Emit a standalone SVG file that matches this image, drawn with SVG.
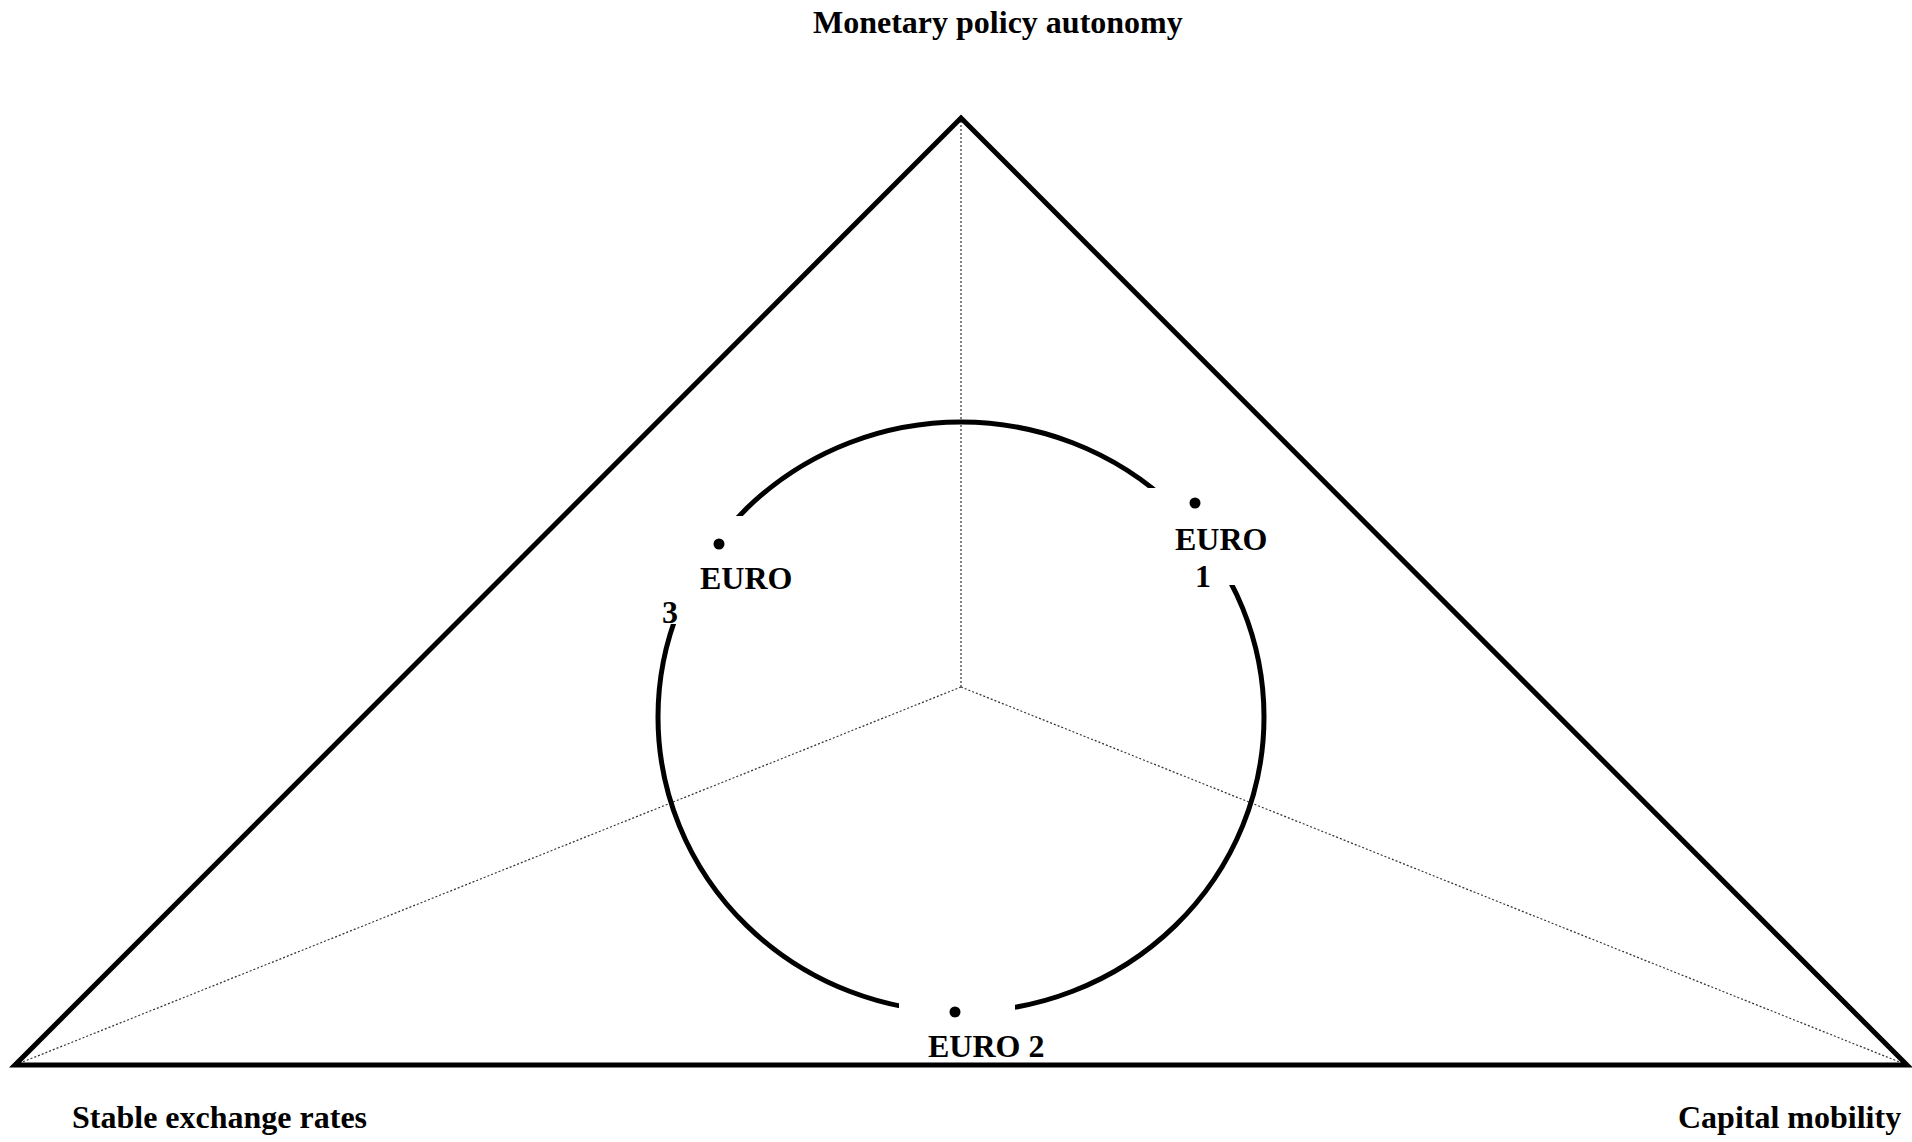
<svg xmlns="http://www.w3.org/2000/svg" width="1912" height="1142" viewBox="0 0 1912 1142">
<style>
.lbl{font-family:"Liberation Serif","Times New Roman",serif;font-weight:bold;font-size:32px;fill:#000}
.tri{fill:none;stroke:#000;stroke-width:5;stroke-linejoin:miter}
.dot{stroke:#333;stroke-width:1.2;stroke-dasharray:2 2;fill:none}
.arc{fill:none;stroke:#000;stroke-width:5}
.box{fill:#fff;stroke:none}
</style>
<rect width="1912" height="1142" fill="#fff"/>
<g id="connectors">
<line class="dot" x1="961" y1="687" x2="961" y2="118"/>
<line class="dot" x1="961" y1="687" x2="15" y2="1065"/>
<line class="dot" x1="961" y1="687" x2="1907" y2="1065"/>
</g>
<g id="triangle">
<polygon class="tri" points="961,118 1907,1065 15,1065"/>
</g>
<g id="circle">
<ellipse class="arc" cx="961" cy="717" rx="303" ry="295"/>
</g>
<g id="euro3">
<rect class="box" x="645" y="516" width="150" height="108"/>
<circle cx="719" cy="544" r="5.5" fill="#000"/>
<text class="lbl" x="700" y="589">EURO</text>
<text class="lbl" x="662" y="623">3</text>
</g>
<g id="euro1">
<rect class="box" x="1148" y="488" width="135" height="97"/>
<circle cx="1195" cy="503" r="5.5" fill="#000"/>
<text class="lbl" x="1175" y="550">EURO</text>
<text class="lbl" x="1195" y="587">1</text>
</g>
<g id="euro2">
<rect class="box" x="899" y="992" width="116" height="70"/>
<circle cx="955" cy="1012" r="5.5" fill="#000"/>
<text class="lbl" x="928" y="1057">EURO 2</text>
</g>
<g id="monetary">
<text class="lbl" x="813" y="33">Monetary policy autonomy</text>
</g>
<g id="stable">
<text class="lbl" x="72" y="1128">Stable exchange rates</text>
</g>
<g id="capital">
<text class="lbl" x="1678" y="1128">Capital mobility</text>
</g>
</svg>
